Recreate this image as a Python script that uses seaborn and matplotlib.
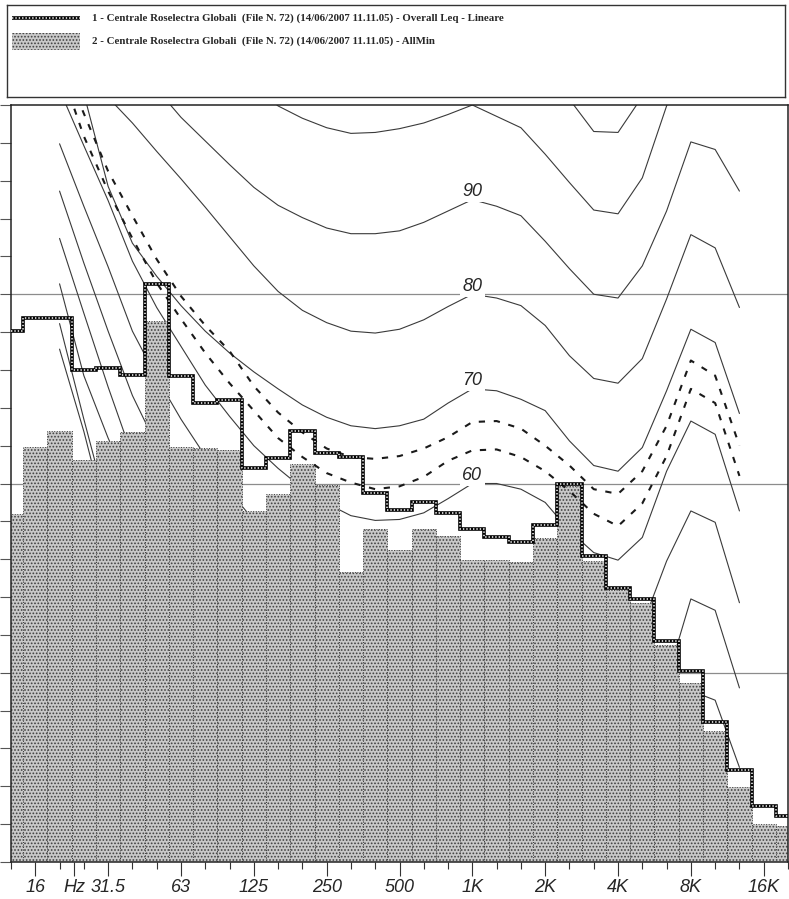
import numpy as np
import pandas as pd
import matplotlib
matplotlib.use("Agg")
import matplotlib.pyplot as plt
from matplotlib.patches import Rectangle
import seaborn as sns

# 1/3-octave band centres on the frequency axis (12.5 Hz .. 20 kHz)
bands = ["12.5", "16", "20", "25", "31.5", "40", "50", "63", "80", "100",
         "125", "160", "200", "250", "315", "400", "500", "630", "800", "1K",
         "1.25K", "1.6K", "2K", "2.5K", "3.15K", "4K", "5K", "6.3K", "8K",
         "10K", "12.5K", "16K", "20K"]

# Series 1: Overall Leq, linear (dB)
leq_overall = [76.1, 77.5, 77.5, 72.0, 72.2, 71.5, 81.1, 71.4, 68.5, 68.8,
               61.6, 62.7, 65.6, 63.2, 62.8, 59.0, 57.2, 58.0, 56.9, 55.2,
               54.3, 53.8, 55.6, 60.0, 52.3, 49.0, 47.8, 43.4, 40.2, 34.8,
               29.7, 25.9, 24.9]

# Series 2: AllMin (dB)
all_min = [56.8, 63.9, 65.6, 62.5, 64.5, 65.4, 77.2, 63.9, 63.8, 63.5,
           57.1, 58.9, 62.1, 59.8, 50.7, 55.2, 53.0, 55.2, 54.4, 51.9,
           51.9, 51.7, 54.2, 59.7, 51.8, 48.7, 47.4, 42.9, 38.9, 33.8,
           27.9, 24.0, 23.8]

# Equal-loudness contours from 20 Hz to 12.5 kHz (dB); NaN where the curve
# lies outside the plotted range
nan = np.nan
contour_bands = bands[2:31]
contour_phon = [110, 100, 90, 80, 70, 60, 50, 40, 30, 20, 10, 0]
phon_110 = [nan] * 21 + [100.6, 97.2, 97.1, 100.9] + [nan] * 4
phon_100 = [nan] * 8 + [102.0, 99.9, 98.6, 97.6, 97.0, 97.1, 97.5, 98.1, 99.0,
                        100.0, 98.8, 97.6, 94.8, 91.8, 88.9, 88.5, 92.3, 99.9,
                        105.9, 105.2, 100.7]
phon_90 = [nan] * 4 + [101.7, 98.7, 96.2, 93.7, 91.3, 89.4, 88.1, 87.0, 86.4,
                       86.4, 86.7, 87.6, 88.8, 90.0, 89.3, 88.3, 85.6, 82.7,
                       80.0, 79.6, 83.0, 88.8, 96.1, 95.3, 90.9]
phon_80 = [nan] * 2 + [100.8, 98.1, 95.1, 92.2, 89.2, 86.1, 83.0, 80.3, 78.3,
                       77.0, 76.1, 75.9, 76.3, 77.3, 78.7, 80.0, 79.6, 78.8,
                       76.7, 73.5, 71.1, 70.6, 73.2, 79.5, 86.3, 84.9, 78.6]
phon_70 = [nan] + [101.2, 91.4, 85.4, 81.9, 78.8, 76.1, 73.8, 71.8, 70.0, 68.3,
                   67.0, 66.1, 65.8, 66.1, 66.8, 68.5, 70.0, 69.8, 68.9, 67.7,
                   64.5, 61.9, 61.3, 63.8, 69.8, 76.3, 74.9, 67.4]
phon_60 = [101.6, 95.7, 89.9, 83.5, 78.6, 74.5, 70.4, 67.1, 64.0, 61.6, 59.5,
           57.9, 56.6, 56.1, 56.2, 56.9, 58.4, 60.0, 60.0, 59.4, 58.0, 55.0,
           52.7, 51.9, 54.3, 61.3, 66.6, 65.2, 57.1]
phon_50 = [95.9, 89.3, 82.9, 76.1, 71.2, 66.8, 62.9, 59.2, 56.1, 53.4, 51.3,
           49.7, 48.5, 47.9, 48.0, 48.7, 49.3, 50.0, 49.9, 49.2, 47.8, 45.5,
           43.2, 42.5, 45.0, 51.8, 57.1, 55.9, 47.4]
phon_40 = [90.9, 83.3, 76.1, 69.3, 64.0, 59.2, 55.0, 51.5, 48.7, 46.0, 43.9,
           42.3, 41.3, 40.5, 40.2, 40.2, 40.1, 40.0, 39.9, 39.2, 37.8, 35.7,
           33.6, 32.8, 35.5, 39.2, 47.8, 46.6, 38.4]
phon_30 = [85.9, 78.0, 70.2, 62.9, 58.2, 53.4, 49.2, 45.5, 42.3, 39.7, 37.4,
           35.5, 33.9, 32.6, 31.8, 31.0, 30.5, 30.0, 29.9, 29.1, 27.8, 25.6,
           23.6, 23.0, 25.4, 31.8, 38.1, 37.1, 30.0]
phon_20 = [81.1, 71.4, 64.8, 59.2, 54.5, 50.0, 46.0, 42.5, 39.5, 36.5, 34.0,
           31.5, 29.0, 26.5, 24.5, 22.5, 21.0, 20.0, 20.0, 19.0, 17.5, 15.5,
           13.5, 13.0, 15.0, 21.5, 28.0, 27.0, 20.5]
phon_10 = [76.9, 66.8, 57.1, 50.0, 44.5, 39.5, 35.5, 32.0, 28.5, 25.5, 23.0,
           20.5, 18.0, 16.0, 14.0, 12.5, 11.0, 10.0, 10.0, 9.0, 7.5, 5.5,
           3.5, 3.0, 5.0, 11.5, 18.0, 17.0, 10.5]
phon_0 = [74.2, 65.5, 55.5, 48.5, 42.0, 36.5, 31.5, 27.0, 23.0, 19.5, 16.5,
          13.5, 11.0, 8.5, 6.0, 4.0, 2.0, 0.0, 0.0, -1.0, -2.5, -4.5,
          -6.5, -7.0, -5.0, 1.5, 8.0, 7.0, 0.5]
contours = [phon_110, phon_100, phon_90, phon_80, phon_70, phon_60, phon_50,
            phon_40, phon_30, phon_20, phon_10, phon_0]
labelled_phon = [60, 70, 80, 90]

# Loudness contours of the two measured spectra (dB)
loud_leq = [105.3, 99.1, 93.0, 88.3, 83.7, 79.8, 76.7, 74.0, 70.3, 67.5, 65.4,
            63.7, 62.8, 62.6, 62.9, 63.7, 64.9, 66.5, 66.6, 65.8, 64.0, 61.9,
            59.4, 58.9, 61.3, 66.1, 73.0, 71.4, 64.0]
loud_min = [104.1, 96.7, 90.9, 85.9, 81.2, 77.4, 73.8, 70.6, 67.7, 64.8, 62.8,
            61.1, 60.1, 59.4, 59.7, 60.7, 62.4, 63.5, 63.6, 62.8, 61.3, 59.2,
            56.8, 55.5, 57.9, 62.9, 70.0, 68.5, 60.8]

# Labelled frequency ticks (octaves) and unit label
octave_bands = ["16", "31.5", "63", "125", "250", "500", "1K", "2K", "4K",
                "8K", "16K"]
unit_label = "Hz"
grid_levels = [40, 60, 80]

legend_1 = ("1 - Centrale Roselectra Globali  (File N. 72) "
            "(14/06/2007 11.11.05) - Overall Leq - Lineare")
legend_2 = ("2 - Centrale Roselectra Globali  (File N. 72) "
            "(14/06/2007 11.11.05) - AllMin")

# ---------------------------------------------------------------- drawing
sns.set_style("white")
plt.rcParams["font.family"] = ["Liberation Sans", "DejaVu Sans"]
plt.rcParams["hatch.linewidth"] = 0.8
plt.rcParams["hatch.color"] = "#3c3c3c"

W, H = 789, 899
fig = plt.figure(figsize=(W / 100, H / 100), dpi=100)
fig.patch.set_facecolor("white")
ax = fig.add_axes([11 / W, 1 - 862 / H, 777 / W, 757 / H])

BAR_FACE = "#c9c9c9"
BAR_HATCH = "....."
BAR_HATCH_COLOR = "#404040"

# AllMin bars, dotted fill with faint dotted band edges
df_bars = pd.DataFrame({"band": bands, "level": all_min})
sns.barplot(data=df_bars, x="band", y="level", order=bands, width=1.0,
            color=BAR_FACE, saturation=1.0, ax=ax, zorder=2, linewidth=0)
for p in ax.patches:
    p.set_hatch(BAR_HATCH)
    p.set_edgecolor(BAR_HATCH_COLOR)
    p.set_linewidth(0.7)
    p.set_linestyle((0, (1.0, 1.6)))

# Equal-loudness contours (behind the bars)
rows = []
for phon, vals in zip(contour_phon, contours):
    for b, v in zip(contour_bands, vals):
        rows.append((phon, bands.index(b), v))
df_c = pd.DataFrame(rows, columns=["phon", "pos", "level"]).dropna()
sns.lineplot(data=df_c, x="pos", y="level", units="phon", estimator=None,
             sort=False, color="#3a3a3a", linewidth=0.8, ax=ax, zorder=1,
             legend=False)

for g in grid_levels:
    ax.axhline(g, color="#8c8c8c", lw=0.9, zorder=0.5)

# Loudness of the two spectra
cpos = [bands.index(b) for b in contour_bands]
for vals in (loud_leq, loud_min):
    ax.plot(cpos, vals, color="#1a1a1a", lw=1.5, linestyle=(0, (3.0, 4.2)),
            dash_capstyle="butt", zorder=3)

# Overall Leq as a chain-style step line
pos = np.arange(len(bands))
ax.step(pos, leq_overall, where="mid", color="black", lw=2.6, zorder=4,
        solid_joinstyle="miter")
ax.step(pos, leq_overall, where="mid", color="white", lw=1.1, zorder=4.1,
        linestyle=(0, (0.9, 1.3)))

# Contour labels at 1 kHz
for phon, vals in zip(contour_phon, contours):
    if phon in labelled_phon:
        v = vals[contour_bands.index("1K")]
        ax.text(bands.index("1K"), v + 0.85, str(phon), ha="center",
                va="center", fontsize=13, fontstyle="italic",
                bbox=dict(boxstyle="square,pad=0.12", fc="white", ec="none"),
                zorder=5)

ax.set_xlim(0, len(bands) - 1)
ax.set_ylim(20, 100)
ax.set_xlabel("")
ax.set_ylabel("")

major_pos = [bands.index(b) for b in octave_bands]
hz_pos = 2.6
ticks = sorted(major_pos + [hz_pos])
tick_labels = [unit_label if t == hz_pos else bands[int(t)] for t in ticks]
ax.set_xticks(ticks)
ax.set_xticklabels(tick_labels, fontsize=13, fontstyle="italic")
ax.set_xticks([i for i in range(len(bands)) if i not in major_pos], minor=True)
for t, tk in zip(ticks, ax.xaxis.get_major_ticks()):
    if t == hz_pos:
        tk.tick1line.set_visible(False)
ax.set_yticks(np.arange(20, 101, 4))
ax.set_yticklabels([])
ax.tick_params(axis="x", which="major", length=10, width=0.8, pad=2,
               color="#333333", bottom=True)
ax.tick_params(axis="x", which="minor", length=5, width=0.8,
               color="#333333", bottom=True)
ax.tick_params(axis="y", which="major", length=8, width=0.8,
               color="#555555", left=True)
for s in ax.spines.values():
    s.set_linewidth(1.1)
    s.set_color("#222222")

# Legend panel
lax = fig.add_axes([7 / W, 1 - 97 / H, 778 / W, 92 / H])
lax.set_xlim(0, 778)
lax.set_ylim(92, 0)
lax.set_xticks([])
lax.set_yticks([])
for s in lax.spines.values():
    s.set_color("#333333")
    s.set_linewidth(1.0)
lax.plot([5, 73], [13, 13], color="black", lw=2.6, solid_capstyle="butt")
lax.plot([5, 73], [13, 13], color="white", lw=1.1, linestyle=(0, (0.9, 1.3)))
lax.add_patch(Rectangle((5, 28), 68, 17, facecolor=BAR_FACE, hatch=BAR_HATCH,
                        edgecolor=BAR_HATCH_COLOR, linewidth=0))
lax.text(85, 13, legend_1, va="center", ha="left", family="Liberation Serif",
         fontweight="bold", fontsize=7.8)
lax.text(85, 36, legend_2, va="center", ha="left", family="Liberation Serif",
         fontweight="bold", fontsize=7.8)

fig.savefig("out.png", dpi=100)
